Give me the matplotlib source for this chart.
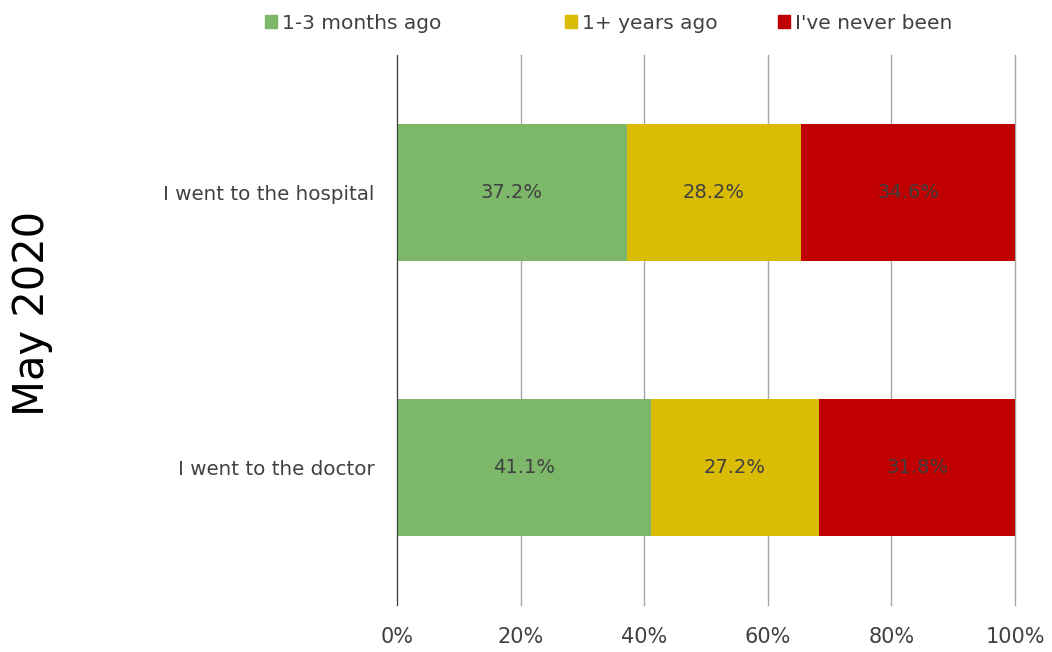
import numpy as np
import matplotlib.pyplot as plt
from matplotlib.patches import Patch

plt.rcParams['font.family'] = ['DejaVu Sans']

categories = ['I went to the doctor', 'I went to the hospital']
series_names = ['1-3 months ago', '1+ years ago', "I've never been"]
months_ago = [41.1, 37.2]
years_ago = [27.2, 28.2]
never_been = [31.8, 34.6]
colors = ['#7DB76A', '#DBBC04', '#C00000']
xticks = [0, 20, 40, 60, 80, 100]

fig = plt.figure(figsize=(10.52, 6.52), dpi=100)
ax = fig.add_axes([0.3774, 0.0721, 0.5874, 0.8435])

y = np.arange(len(categories))
left = np.zeros(len(categories))
for vals, col in zip([months_ago, years_ago, never_been], colors):
    vals = np.array(vals)
    ax.barh(y, vals, left=left, height=0.5, color=col, zorder=3)
    for yi, l, v in zip(y, left, vals):
        ax.text(l + v / 2, yi, f'{v:.1f}%', ha='center', va='center',
                fontsize=14, color='#404040', zorder=4)
    left += vals

ax.set_xlim(0, 100)
ax.set_ylim(-0.5, 1.5)
ax.set_xticks(xticks)
ax.set_xticklabels([f'{t}%' for t in xticks], fontsize=15, color='#404040')
ax.set_yticks(y)
ax.set_yticklabels(categories, fontsize=14.3, color='#404040')
ax.tick_params(axis='both', length=0)
ax.tick_params(axis='x', pad=16)
ax.tick_params(axis='y', pad=16)
ax.grid(axis='x', color='#A6A6A6', linewidth=1, zorder=0)
for gl in ax.get_xgridlines():
    gl.set_clip_on(False)
for s in ['top', 'right', 'bottom']:
    ax.spines[s].set_visible(False)
ax.spines['left'].set_color('#404040')
ax.spines['left'].set_zorder(5)

fig.text(0.03, 0.52, 'May 2020', rotation=90, fontsize=30, color='black',
         ha='center', va='center')

# legend entries placed one by one (Excel spaces them unevenly)
legend_x = [0.246, 0.531, 0.734]
for name, col, lx in zip(series_names, colors, legend_x):
    leg = fig.legend([Patch(color=col)], [name], loc='upper left',
                     bbox_to_anchor=(lx, 0.988), frameon=False, fontsize=14.5,
                     handlelength=0.6, handleheight=0.6, handletextpad=0.25,
                     borderpad=0.3, borderaxespad=0, labelcolor='#404040')

fig.savefig('out.png', dpi=100)
